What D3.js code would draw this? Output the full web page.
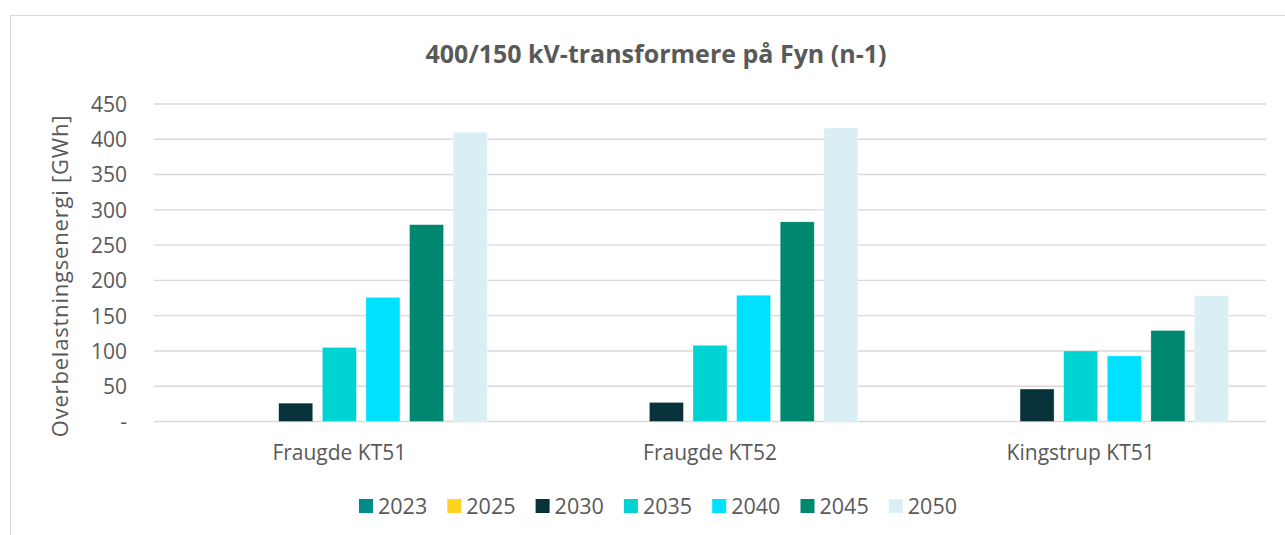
<!DOCTYPE html>
<html>
<head>
<meta charset="utf-8">
<script src="https://cdn.jsdelivr.net/npm/d3@7"></script>
<style>
  html, body { margin: 0; padding: 0; background: #fff; }
  svg { display: block; font-family: "Open Sans", "Noto Sans", sans-serif; }
</style>
</head>
<body>
<svg id="chart" width="1285" height="535"></svg>
<script>
// Transformer overload energy per station and study year
const categories = ["Fraugde KT51", "Fraugde KT52", "Kingstrup KT51"];
const years = ["2023", "2025", "2030", "2035", "2040", "2045", "2050"];
const colors = ["#008B8B", "#FFD320", "#073239", "#00D4D2", "#00E1FF", "#008770", "#DAEEF6"];
const values2023 = [0, 0, 0];
const values2025 = [0, 0, 0];
const values2030 = [26, 27, 46];
const values2035 = [105, 108, 100];
const values2040 = [176, 179, 93];
const values2045 = [279, 283, 129];
const values2050 = [410, 416, 178];
const yTicks = [0, 50, 100, 150, 200, 250, 300, 350, 400, 450];
const yTickLabels = ["-", "50", "100", "150", "200", "250", "300", "350", "400", "450"];

const series = [values2023, values2025, values2030, values2035, values2040, values2045, values2050];
const rows = categories.map((c, i) => ({
  category: c,
  values: years.map((y, j) => ({ year: y, value: series[j][i], color: colors[j] }))
}));

const svg = d3.select("#chart");
const textColor = "#595959";
const gridColor = "#D9D9D9";

// chart frame
svg.append("rect")
  .attr("x", 10.5).attr("y", 15.5)
  .attr("width", 1300).attr("height", 600)
  .attr("fill", "none").attr("stroke", gridColor).attr("stroke-width", 1);

const plot = { left: 154, right: 1266, top: 104, bottom: 421.5 };

const x0 = d3.scaleBand().domain(categories).range([plot.left, plot.right]).padding(0);
const x1 = d3.scaleBand().domain(years).range([0, x0.bandwidth()])
  .paddingInner(0.22).paddingOuter(0.86);
const y = d3.scaleLinear().domain([0, 450]).range([plot.bottom, plot.top]);

// gridlines
svg.append("g")
  .selectAll("line")
  .data(yTicks)
  .join("line")
  .attr("x1", plot.left).attr("x2", plot.right)
  .attr("y1", d => y(d)).attr("y2", d => y(d))
  .attr("stroke", gridColor).attr("stroke-width", 1.4);

// y axis labels
const yAxis = d3.axisLeft(y).tickValues(yTicks)
  .tickFormat((d, i) => yTickLabels[i]).tickSize(0).tickPadding(0);
const yg = svg.append("g").attr("transform", `translate(${plot.left - 27},0)`).call(yAxis);
yg.select(".domain").remove();
yg.selectAll("text").attr("fill", textColor).style("font-size", "21px")
  .style("font-family", "\"Open Sans\", sans-serif").attr("dy", "0.35em");

// bars
const groups = svg.append("g").selectAll("g")
  .data(rows)
  .join("g")
  .attr("transform", d => `translate(${x0(d.category)},0)`);

groups.selectAll("rect")
  .data(d => d.values.filter(v => v.value > 0))
  .join("rect")
  .attr("x", d => x1(d.year))
  .attr("width", x1.bandwidth())
  .attr("y", d => y(d.value))
  .attr("height", d => y(0) - y(d.value))
  .attr("fill", d => d.color)
  .attr("stroke", "#ffffff").attr("stroke-opacity", 0.5).attr("stroke-width", 0.6);

// x axis labels
const xAxis = d3.axisBottom(x0).tickSize(0).tickPadding(0);
const xg = svg.append("g").attr("transform", `translate(0,460)`).call(xAxis);
xg.select(".domain").remove();
xg.selectAll("text").attr("fill", textColor).style("font-size", "21px")
  .style("font-family", "\"Open Sans\", sans-serif").attr("y", 0).attr("dy", 0);

// title
svg.append("text")
  .attr("x", 656).attr("y", 63)
  .attr("text-anchor", "middle")
  .attr("fill", textColor)
  .style("font-size", "25px").style("font-weight", "bold")
  .text("400/150 kV-transformere på Fyn (n-1)");

// y axis title
svg.append("text")
  .attr("transform", "translate(68,276) rotate(-90)")
  .attr("text-anchor", "middle")
  .attr("fill", textColor)
  .style("font-size", "22px")
  .style("letter-spacing", "0.8px")
  .text("Overbelastningsenergi [GWh]");

// legend
const legend = svg.append("g").attr("transform", "translate(359,513.5)");
const item = legend.selectAll("g")
  .data(years)
  .join("g")
  .attr("transform", (d, i) => `translate(${i * 88.3},0)`);
item.append("rect")
  .attr("x", 0).attr("y", -14.5).attr("width", 14).attr("height", 14)
  .attr("fill", (d, i) => colors[i]);
item.append("text")
  .attr("x", 19).attr("y", 0)
  .attr("fill", textColor).style("font-size", "21.5px")
  .text(d => d);
</script>
</body>
</html>
